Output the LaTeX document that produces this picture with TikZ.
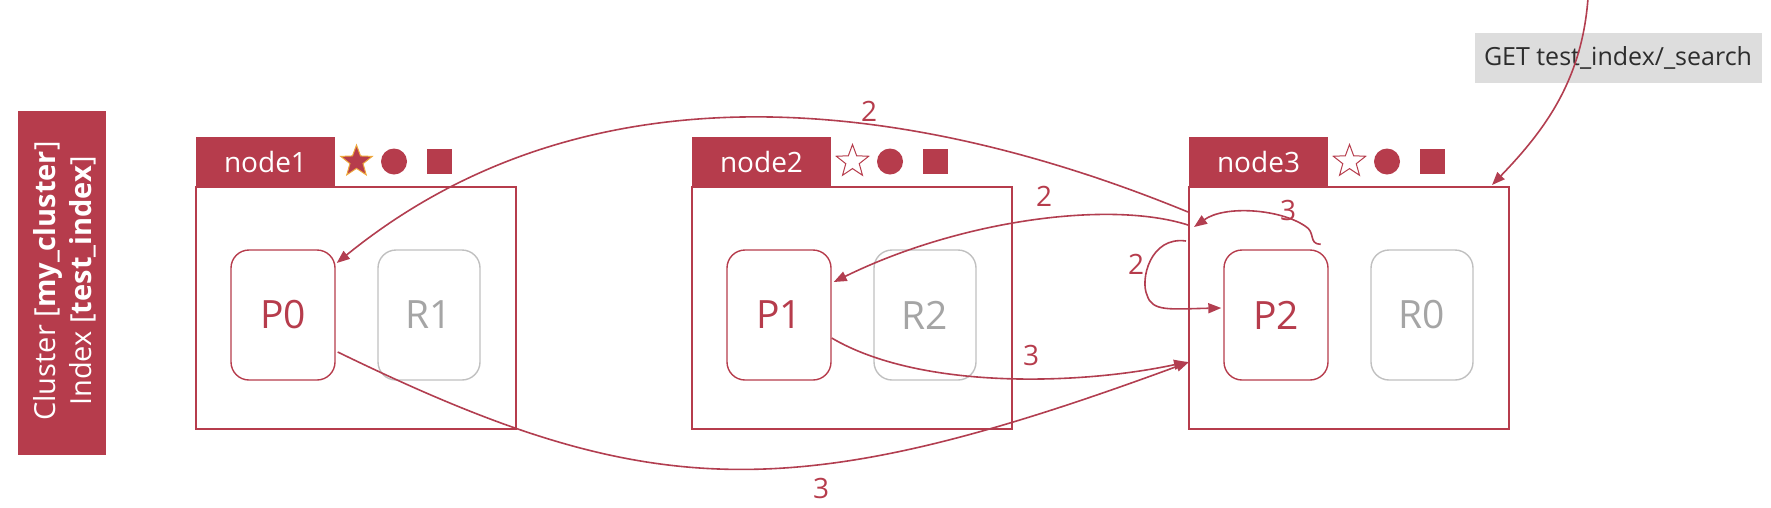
\documentclass[tikz,border=0pt]{standalone}
\usepackage{fontspec}
\setmainfont{Open Sans}
\usetikzlibrary{shapes.geometric,arrows.meta,calc}
\definecolor{esred}{RGB}{182,60,76}
\definecolor{linered}{RGB}{178,62,80}
\definecolor{rgray}{RGB}{192,192,192}
\definecolor{rtext}{RGB}{165,165,165}
\definecolor{getbg}{RGB}{221,221,221}
\definecolor{gettext}{RGB}{45,45,45}
\definecolor{starglow}{RGB}{238,168,60}
\begin{document}
\begin{tikzpicture}[x=1pt,y=-1pt,
  outerbox/.style={draw=esred,line width=2pt,minimum width=320pt,minimum height=242pt,inner sep=0pt},
  tabbox/.style={fill=esred,text=white,minimum width=139pt,minimum height=50pt,inner sep=0pt,font=\fontsize{28}{32}\selectfont},
  pbox/.style={draw=esred,line width=1.4pt,rounded corners=18pt,minimum width=104pt,minimum height=130pt,text=esred,font=\fontsize{39}{44}\selectfont,inner sep=0pt},
  rbox/.style={draw=rgray,line width=1.4pt,rounded corners=18pt,minimum width=102pt,minimum height=130pt,text=rtext,font=\fontsize{39}{44}\selectfont,inner sep=0pt},
  starfull/.style={star,star points=5,star point ratio=2.4,minimum size=33pt,inner sep=0pt,fill=esred,draw=starglow,line width=1pt},
  starempty/.style={star,star points=5,star point ratio=2.4,minimum size=34pt,inner sep=0pt,fill=white,draw=esred,line width=1pt},
  dot/.style={circle,fill=esred,minimum size=26pt,inner sep=0pt},
  sq/.style={rectangle,fill=esred,minimum size=25pt,inner sep=0pt},
  conn/.style={draw=linered,line width=1.6pt,-{Triangle[length=13pt,width=10pt]}},
  numlabel/.style={text=esred,font=\fontsize{28}{32}\selectfont,inner sep=0pt},
]
\useasboundingbox (0,0) rectangle (1771,507);

% cluster banner
\node[fill=esred,minimum width=88pt,minimum height=344pt,inner sep=0pt] (banner) at (62,283) {};
\node[rotate=90,text=white,align=center,font=\fontsize{29}{36}\selectfont,inner sep=0pt] (bannertext) at (65,281)
  {Cluster [\textbf{my\_cluster}]\\Index [\textbf{test\_index}]};

% node1
\node[outerbox] (n1) at (356,308) {};
\node[tabbox] (t1) at (265.5,162) {node1};
\node[pbox] (p0) at (283,315) {P0};
\node[rbox] (r1) at (429,315) {R1};
\node[starfull] (s1) at (356.5,161.5) {};
\node[dot] (d1) at (394,161.5) {};
\node[sq] (q1) at (439,161) {};

% node2
\node[outerbox] (n2) at (852,308) {};
\node[tabbox] (t2) at (761.5,162) {node2};
\node[pbox] (p1) at (779,315) {P1};
\node[rbox] (r2) at (925,315) {R2};
\node[starempty] (s2) at (852.5,161.5) {};
\node[dot] (d2) at (890,161.5) {};
\node[sq] (q2) at (935,161) {};

% node3
\node[outerbox] (n3) at (1349,308) {};
\node[tabbox] (t3) at (1258.5,162) {node3};
\node[pbox] (p2) at (1276,315) {P2};
\node[rbox] (r0) at (1422,315) {R0};
\node[starempty] (s3) at (1349.5,161.5) {};
\node[dot] (d3) at (1387,161.5) {};
\node[sq] (q3) at (1432,161) {};

% request
\node[fill=getbg,text=gettext,minimum width=287pt,minimum height=50pt,inner sep=0pt,font=\fontsize{25}{28}\selectfont] (get) at (1618,58) {GET test\_index/\_search};
\coordinate (client) at (1588,-2);

% connector end points
\coordinate (a1s) at ($(n3.west)+(0,-96)$);
\coordinate (a1e) at ($(p0.east)+(1,-52)$);
\coordinate (a2s) at ($(n3.west)+(0,-83)$);
\coordinate (a2e) at ($(p1.east)+(2,-33)$);
\coordinate (a3s) at ($(p2.north east)+(-8,-5)$);
\coordinate (a3e) at ($(n3.west)+(6,-81)$);
\coordinate (a4s) at ($(n3.west)+(-2,-67)$);
\coordinate (a4e) at ($(p2.west)+(-2,-7)$);
\coordinate (a5s) at ($(p1.east)+(0,23)$);
\coordinate (a5e) at ($(n3.west)+(-1,54)$);
\coordinate (a6s) at ($(p0.east)+(2,37)$);
\coordinate (a6e) at ($(n3.west)+(1,54)$);
\coordinate (a7e) at ($(n3.north east)+(-18,-1)$);

% connectors
\draw[conn] (a1s) .. controls (920,102) and (594,54) .. (a1e);
\draw[conn] (a2s) .. controls (1110,200) and (960,220) .. (a2e);
\draw[conn] (a3s) .. controls (1308,244) and (1316,232) .. (1305,226) .. controls (1280,209) and (1225,205) .. (a3e);
\draw[conn] (a4s) .. controls (1150,236) and (1140,280) .. (1147,295) .. controls (1152,312) and (1170,309) .. (a4e);
\draw[conn] (a5s) .. controls (920,390) and (1080,385) .. (a5e);
\draw[conn] (a6s) .. controls (648,503) and (790,509) .. (a6e);
\draw[conn] (client) .. controls (1582,80) and (1545,130) .. (a7e);

% labels
\node[numlabel] (l1) at (869,111) {2};
\node[numlabel] (l2) at (1044,196) {2};
\node[numlabel] (l3) at (1136,264) {2};
\node[numlabel] (l4) at (1288,210) {3};
\node[numlabel] (l5) at (1031,355) {3};
\node[numlabel] (l6) at (821,488) {3};
\end{tikzpicture}
\end{document}
